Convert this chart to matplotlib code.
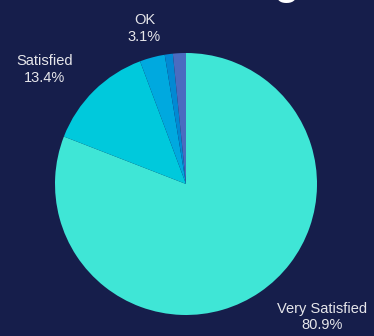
import matplotlib
matplotlib.use("Agg")
import matplotlib.pyplot as plt

# data
labels = ["Very Satisfied", "Satisfied", "OK", "Dissatisfied", "Very Dissatisfied"]
shares = [80.9, 13.4, 3.1, 1.0, 1.6]
colors = ["#3fe6d6", "#00c9dc", "#00a9df", "#0289d3", "#4a6cc0"]

bg = "#161e4b"
plt.rcParams["font.family"] = ["Liberation Sans", "DejaVu Sans"]

fig = plt.figure(figsize=(3.74, 3.36), dpi=100, facecolor=bg)
ax = fig.add_axes([0, 0, 1, 1])
ax.set_facecolor(bg)

# only label slices of 3% and more
shown = [f"{l}\n{s:.1f}%" if s >= 3 else "" for l, s in zip(labels, shares)]

wedges, texts = ax.pie(shares, labels=shown, colors=colors, startangle=90,
                       counterclock=False, labeldistance=1.23,
                       textprops=dict(color="#e6e6ea", fontsize=10.5,
                                      linespacing=1.25, multialignment="center"))
texts[2].set_ha("center")

# centre the pie where it sits in the picture
s = 131.0
ax.set_xlim(-186 / s, (374 - 186) / s)
ax.set_ylim(-152 / s, 184 / s)
ax.set_aspect("equal")
ax.axis("off")

# title mostly cut off at the top
fig.text(300 / 374, 1.018, "Satisfaction Rating", ha="right", va="baseline",
         color="white", fontsize=30, fontweight="bold")

fig.savefig("out.png", dpi=100, facecolor=bg)
